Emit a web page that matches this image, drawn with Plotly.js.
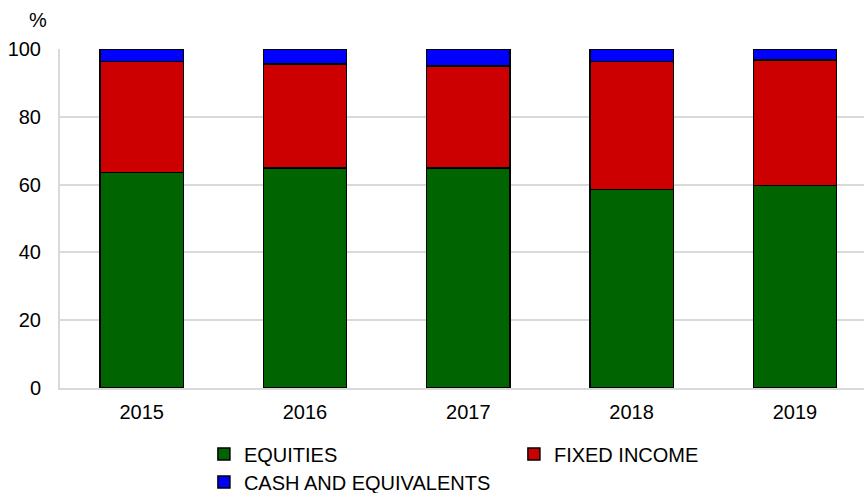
<!DOCTYPE html>
<html>
<head>
<meta charset="utf-8">
<script src="https://cdn.plot.ly/plotly-3.0.1.min.js"></script>
<style>html,body{margin:0;padding:0;background:#fff;}#chart{width:864px;height:493px;}</style>
</head>
<body>
<div id="chart"></div>
<script>
var years = ['2015', '2016', '2017', '2018', '2019'];
var equities = [63.6, 64.9, 64.9, 58.5, 59.8];
var fixedIncome = [32.7, 30.7, 30.1, 37.8, 37.0];
var cash = [3.7, 4.4, 5.0, 3.7, 3.2];
var seriesNames = ['EQUITIES', 'FIXED INCOME', 'CASH AND EQUIVALENTS'];
var yTicks = [0, 20, 40, 60, 80, 100];

var FONT = 'Liberation Sans, Arial, sans-serif';
var FS = 20;
var line = {color: '#000000', width: 1.5};

var traces = [
  {type: 'bar', x: years, y: equities, name: seriesNames[0], marker: {color: '#006400', line: line}, legend: 'legend'},
  {type: 'bar', x: years, y: fixedIncome, name: seriesNames[1], marker: {color: '#cc0000', line: line}, legend: 'legend'},
  {type: 'bar', x: years, y: cash, name: seriesNames[2], marker: {color: '#0000ff', line: line}, legend: 'legend2'}
];

var layout = {
  width: 864, height: 493,
  margin: {l: 60, r: 0, t: 49, b: 105},
  paper_bgcolor: '#ffffff', plot_bgcolor: '#ffffff',
  font: {family: FONT, size: FS, color: '#000000'},
  barmode: 'stack',
  bargap: 0.49,
  hovermode: false,
  xaxis: {
    type: 'category',
    range: [-0.5, 4.423],
    showgrid: false,
    showline: true, linecolor: '#d9d9d9', linewidth: 2,
    ticks: '', ticklabelstandoff: 5,
    tickfont: {family: FONT, size: FS, color: '#000000'},
    zeroline: false
  },
  yaxis: {
    range: [0, 100],
    tickvals: yTicks,
    ticktext: yTicks.map(String),
    showgrid: true, gridcolor: '#d9d9d9', gridwidth: 2,
    showline: true, linecolor: '#d9d9d9', linewidth: 2,
    zeroline: false,
    ticks: '', ticklabelstandoff: 13,
    tickfont: {family: FONT, size: FS, color: '#000000'}
  },
  legend: {
    orientation: 'h', traceorder: 'normal',
    x: 0.179, xanchor: 'left', xref: 'paper',
    y: 1 - 454 / 493, yref: 'container', yanchor: 'middle',
    entrywidth: 265,
    font: {family: FONT, size: FS, color: '#000000'},
    bgcolor: 'rgba(0,0,0,0)', borderwidth: 0
  },
  legend2: {
    orientation: 'h', traceorder: 'normal',
    x: 0.179, xanchor: 'left', xref: 'paper',
    y: 1 - 482 / 493, yref: 'container', yanchor: 'middle',
    font: {family: FONT, size: FS, color: '#000000'},
    bgcolor: 'rgba(0,0,0,0)', borderwidth: 0
  },
  showlegend: true,
  annotations: [{
    text: '%', xref: 'paper', yref: 'paper',
    x: -0.027, y: 1.0, xanchor: 'center', yanchor: 'bottom',
    yshift: 16, showarrow: false,
    font: {family: FONT, size: FS, color: '#000000'}
  }]
};

Plotly.newPlot('chart', traces, layout, {displayModeBar: false, staticPlot: true});
</script>
</body>
</html>
